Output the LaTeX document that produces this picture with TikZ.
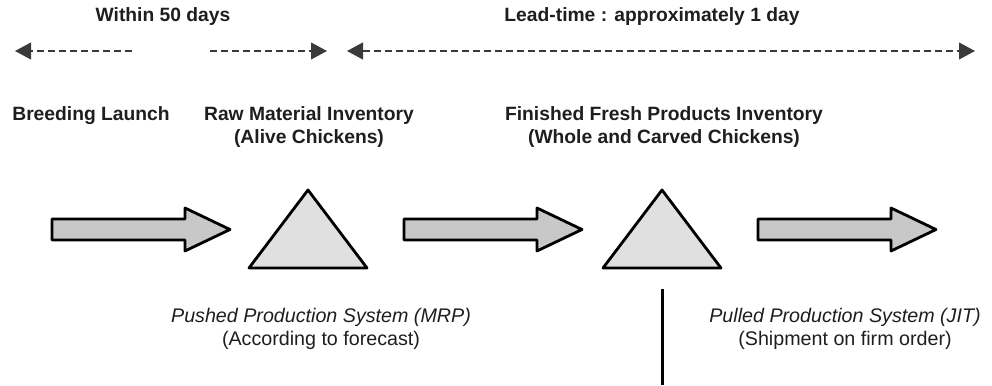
\documentclass[tikz,border=0pt]{standalone}
\usepackage{fontspec}
\setmainfont{Liberation Sans}
\usetikzlibrary{arrows.meta}

\definecolor{flowgray}{HTML}{C8C8C8}
\definecolor{stockgray}{HTML}{E0E0E0}
\definecolor{dashgray}{HTML}{3A3A3A}
\definecolor{inkgray}{HTML}{1E1E1E}

\tikzset{
	headtext/.style={inner sep=0pt, align=center, text=inkgray,
		font=\fontsize{13.7}{16.4}\selectfont\bfseries},
	systext/.style={inner sep=0pt, align=center, text=inkgray,
		font=\fontsize{14}{16}\selectfont},
	flow/.style={draw=black, fill=flowgray, line width=0.7mm},
	stock/.style={draw=black, fill=stockgray, line width=0.7mm},
	span/.style={draw=dashgray, line width=0.4mm, dash pattern=on 1.75mm off 1mm},
	tip/.tip={Triangle[length=4mm, width=4.2mm]}
}

\begin{document}
\begin{tikzpicture}[x=0.25mm, y=-0.25mm, line join=round]
	\useasboundingbox (0,0) rectangle (992,385);

	% Сроки
	\node[headtext] (within) at (163,17) {Within 50 days};
	\node[headtext] (leadtime) at (652,17) {Lead-time : approximately 1 day};

	\coordinate (w1) at (15,51);
	\coordinate (w2) at (132,51);
	\coordinate (w3) at (210,51);
	\coordinate (w4) at (327,51);
	\coordinate (l1) at (347,51);
	\coordinate (l2) at (975,51);

	\draw[span, -tip] (w2) -- (w1);
	\draw[span, -tip] (w3) -- (w4);
	\draw[span, tip-tip] (l1) -- (l2);

	% Этапы
	\node[headtext] (breeding) at (91,116) {Breeding Launch};
	\node[headtext] (rawstock) at (309,127) {Raw Material Inventory\\(Alive Chickens)};
	\node[headtext] (finstock) at (664,127) {Finished Fresh Products Inventory\\(Whole and Carved Chickens)};

	% Потоки
	\foreach \x in {52,404,758}
		\draw[flow] (\x,219) -- ++(133,0) -- ++(0,-11) -- ++(45,21.5)
			-- ++(-45,21.5) -- ++(0,-11) -- ++(-133,0) -- cycle;

	% Запасы
	\foreach \x in {308,662}
		\draw[stock] (\x,190) -- (\x+59,268) -- (\x-59,268) -- cycle;

	% Граница
	\coordinate (cut) at (662,289);
	\coordinate (cutend) at (662,385);
	\draw[line width=0.75mm] (cut) -- (cutend);

	% Системы
	\node[systext] (pushed) at (321,329) {\textit{Pushed Production System (MRP)}\\(According to forecast)};
	\node[systext] (pulled) at (845,329) {\textit{Pulled Production System (JIT)}\\(Shipment on firm order)};
\end{tikzpicture}
\end{document}
